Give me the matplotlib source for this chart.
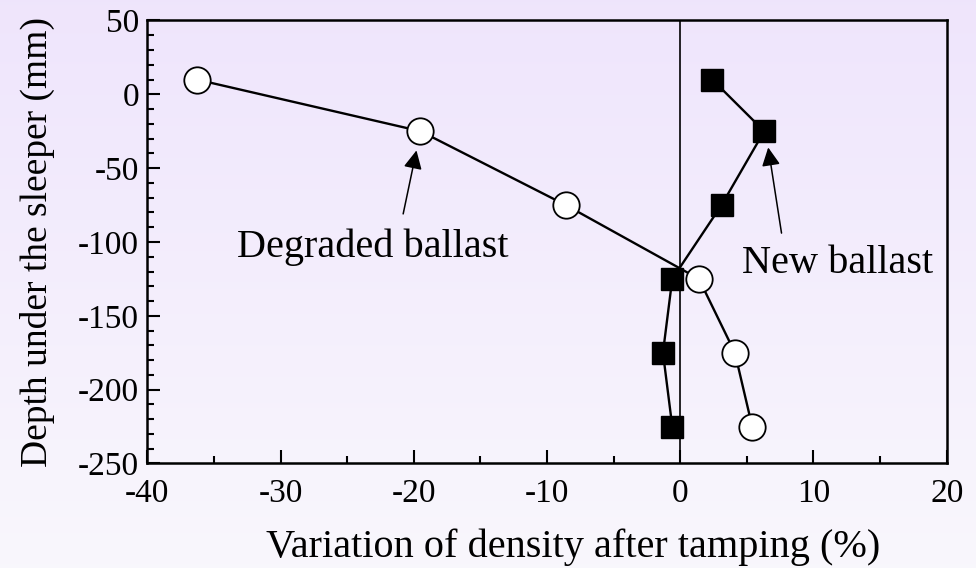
import numpy as np
import matplotlib.pyplot as plt

plt.rcParams['font.family'] = 'Liberation Serif'
plt.rcParams['axes.unicode_minus'] = False

# depth of each measurement (mm) and density variation (%)
depth = [10, -25, -75, -125, -175, -225]
degraded = [-36.3, -19.5, -8.6, 1.4, 4.1, 5.4]
new = [2.4, 6.3, 3.1, -0.6, -1.3, -0.6]

xticks = [-40, -30, -20, -10, 0, 10, 20]
yticks = [50, 0, -50, -100, -150, -200, -250]

fig = plt.figure(figsize=(9.76, 5.68), dpi=100)

# lavender gradient background
bg = fig.add_axes([0, 0, 1, 1], zorder=-1)
top = np.array([0.937, 0.898, 0.988])
bot = np.array([0.976, 0.969, 0.992])
t = np.linspace(0, 1, 256)[:, None]
grad = top * (1 - t) + bot * t
bg.imshow(grad[:, None, :], aspect='auto', extent=[0, 1, 0, 1])
bg.axis('off')

ax = fig.add_axes([0.151, 0.184, 0.819, 0.780])
ax.patch.set_alpha(0)

ax.axvline(0, color='black', lw=1.2, zorder=1)
ax.plot(degraded, depth, '-o', color='black', lw=1.7, ms=19,
        mfc='white', mec='black', mew=1.3, zorder=3)
ax.plot(new, depth, '-s', color='black', lw=1.7, ms=16.5,
        mfc='black', mec='black', zorder=3)

ax.annotate('', xy=(-19.8, -38), xytext=(-20.8, -81),
            arrowprops=dict(arrowstyle='-|>', color='black', lw=1.1,
                            mutation_scale=28, shrinkA=0, shrinkB=0))
ax.annotate('', xy=(6.6, -36), xytext=(7.6, -94),
            arrowprops=dict(arrowstyle='-|>', color='black', lw=1.1,
                            mutation_scale=28, shrinkA=0, shrinkB=0))
ax.text(-23.1, -110, 'Degraded ballast', fontsize=29, ha='center', va='baseline')
ax.text(11.8, -121, 'New ballast', fontsize=29, ha='center', va='baseline')

ax.set_xlim(-40, 20)
ax.set_ylim(-250, 50)
ax.set_xticks(xticks)
ax.set_xticklabels([str(v) for v in xticks])
ax.set_yticks(yticks)
ax.set_yticklabels([str(v) for v in yticks])
ax.set_xticks(np.arange(-35, 20, 10), minor=True)
ax.set_yticks(np.arange(-240, 50, 10), minor=True)
ax.tick_params(which='both', direction='in', width=1.5, labelsize=24)
ax.tick_params(which='major', length=9.5)
ax.tick_params(which='minor', length=5)
ax.tick_params(axis='x', pad=11)
ax.tick_params(axis='y', pad=6)
for s in ax.spines.values():
    s.set_linewidth(1.8)

ax.set_xlabel('Variation of density after tamping (%)', fontsize=29)
ax.xaxis.set_label_coords(0.532, -0.212)
ax.xaxis.label.set_va('baseline')
ax.set_ylabel('Depth under the sleeper (mm)', fontsize=27)
ax.yaxis.set_label_coords(-0.1155, 0.5)

fig.savefig('out.png', dpi=100)
